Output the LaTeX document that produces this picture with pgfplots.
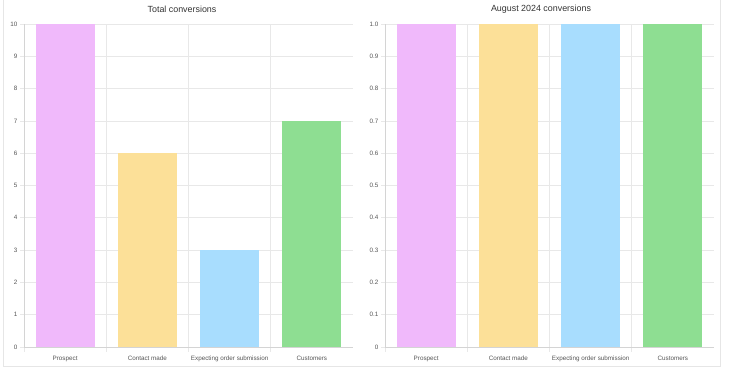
\documentclass[border=0pt]{standalone}
\usepackage{pgfplots}
\pgfplotsset{compat=1.18}
\usepackage{fontspec}
\setmainfont{Liberation Sans}
\definecolor{cpink}{HTML}{F0B9FB}
\definecolor{cyellow}{HTML}{FCE098}
\definecolor{cblue}{HTML}{A8DDFE}
\definecolor{cgreen}{HTML}{8EDE92}
\definecolor{gridc}{HTML}{E8E8E8}
\definecolor{axisc}{HTML}{D4D4D4}
\definecolor{labc}{HTML}{555555}
\definecolor{cardc}{HTML}{E6E6E6}
\pgfplotsset{
  convstyle/.style={
    width=329pt, height=323pt, scale only axis, anchor=south west,
    ybar, xmin=-0.5, xmax=3.5, ymin=0,
    xtick={0,1,2,3},
    xticklabels={Prospect,Contact made,Expecting order submission,Customers},
    minor xtick={-0.5,0.5,1.5,2.5},
    xminorgrids, ymajorgrids,
    major grid style={draw=gridc, line width=0.6pt},
    minor grid style={draw=gridc, line width=0.6pt},
    axis x line*=bottom, axis y line*=left,
    axis line style={draw=axisc, line width=0.6pt, -},
    tick align=outside,
    major x tick style={draw=none},
    minor x tick style={draw=gridc, line width=0.6pt},
    major y tick style={draw=gridc, line width=0.6pt},
    major tick length=4pt, minor tick length=5pt,
    tick label style={font=\fontsize{6.3}{7}\selectfont, text=labc},
    xticklabel style={yshift=-1pt, text height=5pt, text depth=1.5pt, anchor=north},
    yticklabel style={xshift=1pt},
    /pgf/number format/assume math mode=true,
    clip=false,
  },
  barst/.style={draw=none, bar width=0.72, bar shift=0pt},
}
\begin{document}
\begin{tikzpicture}
\path[use as bounding box] (0pt,0pt) rectangle (730pt,372pt);
\draw[cardc, line width=0.6pt] (3pt,372pt) -- (3pt,6pt) -- (720pt,6pt) -- (720pt,372pt);
\node[font=\fontsize{8.9}{10}\selectfont, text=black!80] at (182pt,363pt) {Total conversions};
\node[font=\fontsize{8.9}{10}\selectfont, text=black!80] at (541pt,363pt) {August 2024 conversions};
\begin{axis}[convstyle, at={(24pt,25pt)}, ymax=10, ytick={0,1,...,10}]
\addplot[barst, fill=cpink] coordinates {(0,10)};
\addplot[barst, fill=cyellow] coordinates {(1,6)};
\addplot[barst, fill=cblue] coordinates {(2,3)};
\addplot[barst, fill=cgreen] coordinates {(3,7)};
\end{axis}
\begin{axis}[convstyle, at={(385pt,25pt)}, ymax=1,
  ytick={0,0.1,0.2,0.3,0.4,0.5,0.6,0.7,0.8,0.9,1.0},
  yticklabels={0,0.1,0.2,0.3,0.4,0.5,0.6,0.7,0.8,0.9,1.0}]
\addplot[barst, fill=cpink] coordinates {(0,1)};
\addplot[barst, fill=cyellow] coordinates {(1,1)};
\addplot[barst, fill=cblue] coordinates {(2,1)};
\addplot[barst, fill=cgreen] coordinates {(3,1)};
\end{axis}
\end{tikzpicture}
\end{document}
